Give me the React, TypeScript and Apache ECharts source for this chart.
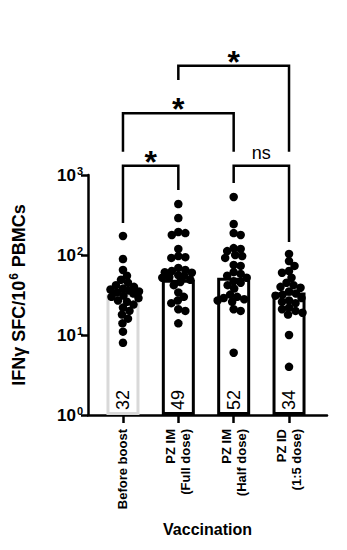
import React, { useEffect, useRef } from "react";
import * as echarts from "echarts";

const categories = ["Before boost", "PZ IM\n(Full dose)", "PZ IM\n(Half dose)", "PZ ID\n(1:5 dose)"];
const barValues = [32, 49, 52, 34];
const countLabels = ["32", "49", "52", "34"];

const beforeBoost = [173, 89, 65, 55, 49, 45, 42, 40, 38, 37, 36, 35, 34, 33, 31, 30, 29, 27, 26, 24, 22, 20, 18, 16, 14, 11, 8];
const pzImFull = [434, 290, 194, 188, 178, 119, 97, 94, 92, 69, 65, 63, 61, 60, 56, 55, 53, 52, 49, 46, 42, 34, 30, 27, 25, 21, 20, 14];
const pzImHalf = [531, 244, 188, 178, 122, 119, 112, 100, 97, 92, 75, 73, 61, 58, 55, 52, 47, 45, 42, 38, 32, 30, 29, 28, 27, 26, 21, 20, 6];
const pzId = [103, 84, 73, 63, 60, 52, 45, 42, 40, 39, 35, 33, 32, 31, 29, 27, 26, 25, 22, 21, 20, 19, 18, 10, 4];
const groups = [beforeBoost, pzImFull, pzImHalf, pzId];

const yTicks = [1, 10, 100, 1000];

const brackets = [
  { from: 0, to: 1, level: 1307, leftEnd: 251, rightEnd: 649, label: "*" },
  { from: 0, to: 2, level: 5905, leftEnd: 1955, rightEnd: 1955, label: "*" },
  { from: 1, to: 3, level: 23240, leftEnd: 15400, rightEnd: 1955, label: "*" },
  { from: 2, to: 3, level: 1307, leftEnd: 794, rightEnd: 145, label: "ns" },
];

const PX_PER_DECADE = 80;
const PX_PER_CATEGORY = 55.35;

function swarm(values: number[], group: number): number[][] {
  const sorted = [...values].sort((a, b) => b - a);
  const placed: { x: number; y: number }[] = [];
  const D = 7.0;
  const out: number[][] = [];
  for (const v of sorted) {
    const y = -PX_PER_DECADE * Math.log10(v);
    let best = 0;
    let bestScore = -1;
    for (let k = 0; k <= 80; k++) {
      const off = (k % 2 === 1 ? 1 : -1) * Math.ceil(k / 2) * 0.5;
      if (Math.abs(off) > 16) break;
      let minD = Infinity;
      for (const p of placed) {
        const d = Math.hypot(p.x - off, p.y - y);
        if (d < minD) minD = d;
      }
      if (minD >= D) {
        best = off;
        bestScore = Infinity;
        break;
      }
      if (minD > bestScore) {
        bestScore = minD;
        best = off;
      }
    }
    placed.push({ x: best, y });
    out.push([group + best / PX_PER_CATEGORY, v]);
  }
  return out;
}

const FONT = "'Liberation Sans', Arial, Helvetica, sans-serif";

export default function App() {
  const ref = useRef<HTMLDivElement>(null);
  useEffect(() => {
    if (!ref.current) return;
    const chart = echarts.init(ref.current, undefined, { renderer: "svg" });
    const gridTop = 175;
    const gridH = 240;
    const points: number[][] = [];
    groups.forEach((g, i) => swarm(g, i).forEach((p) => points.push(p)));

    const option: any = {
      animation: false,
      backgroundColor: "#ffffff",
      textStyle: { fontFamily: FONT },
      grid: [
        { left: 86, top: gridTop, width: 241, height: gridH },
        { left: 95.3, top: gridTop, width: 221.4, height: gridH },
      ],
      xAxis: [
        {
          type: "value",
          gridIndex: 0,
          min: 0,
          max: 1,
          axisLine: { show: true, onZero: false, lineStyle: { color: "#000", width: 2.5 } },
          axisTick: { show: false },
          axisLabel: { show: false },
          splitLine: { show: false },
          name: "Vaccination",
          nameLocation: "middle",
          nameGap: 106,
          nameTextStyle: { fontFamily: FONT, fontWeight: "bold", fontSize: 16, color: "#000" },
        },
        {
          type: "category",
          gridIndex: 1,
          data: categories,
          axisLine: { show: false },
          axisTick: { show: true, alignWithLabel: true, length: 8, lineStyle: { color: "#000", width: 2.5 } },
          axisLabel: {
            interval: 0,
            rotate: 90,
            margin: 14,
            fontFamily: FONT,
            fontWeight: "bold",
            fontSize: 13,
            lineHeight: 15,
            color: "#000",
          },
          splitLine: { show: false },
        },
        {
          type: "value",
          gridIndex: 1,
          min: -0.5,
          max: 3.5,
          show: false,
        },
      ],
      yAxis: [
        {
          type: "log",
          gridIndex: 0,
          min: 1,
          max: 1000,
          logBase: 10,
          axisLine: { show: true, onZero: false, lineStyle: { color: "#000", width: 2.5 } },
          axisTick: { show: true, length: 7, lineStyle: { color: "#000", width: 2.5 } },
          minorTick: { show: false },
          splitLine: { show: false },
          axisLabel: {
            margin: 5,
            formatter: (v: number) => {
              const e = yTicks.indexOf(Math.round(v));
              return `{b|10}{s|${e}}`;
            },
            rich: {
              b: { fontFamily: FONT, fontWeight: "bold", fontSize: 17, color: "#000", lineHeight: 20 },
              s: { fontFamily: FONT, fontWeight: "bold", fontSize: 11, color: "#000", verticalAlign: "top", padding: [0, 0, 6, 1] },
            },
          },
          name: "{b|IFNγ SFC/10}{s|6}{b| PBMCs}",
          nameLocation: "middle",
          nameRotate: 90,
          nameGap: 58,
          nameTextStyle: {
            rich: {
              b: { fontFamily: FONT, fontWeight: "bold", fontSize: 18, color: "#000", lineHeight: 22 },
              s: { fontFamily: FONT, fontWeight: "bold", fontSize: 12, color: "#000", verticalAlign: "top", padding: [0, 1, 6, 1] },
            },
          },
        },
        {
          type: "log",
          gridIndex: 1,
          min: 1,
          max: 1000,
          logBase: 10,
          show: false,
        },
      ],
      series: [
        {
          type: "bar",
          xAxisIndex: 1,
          yAxisIndex: 1,
          barWidth: 33,
          data: barValues.map((v, i) => ({
            value: v,
            itemStyle: {
              color: "#ffffff",
              borderColor: i === 0 ? "#d9d9d9" : "#000000",
              borderWidth: 3,
            },
          })),
          label: {
            show: true,
            position: "insideBottom",
            rotate: 90,
            align: "left",
            verticalAlign: "middle",
            distance: 5,
            fontFamily: FONT,
            fontSize: 18,
            color: "#000",
            formatter: (p: any) => countLabels[p.dataIndex],
          },
          z: 2,
        },
        {
          type: "scatter",
          xAxisIndex: 2,
          yAxisIndex: 1,
          symbol: "circle",
          symbolSize: 8.5,
          itemStyle: { color: "#000", opacity: 1 },
          data: points,
          z: 3,
        },
        {
          type: "custom",
          xAxisIndex: 2,
          yAxisIndex: 1,
          data: brackets.map((b) => [b.from, b.to, b.level, b.leftEnd, b.rightEnd]),
          encode: { x: [0, 1], y: [2, 3, 4] },
          renderItem: (params: any, api: any) => {
            const b = brackets[params.dataIndex];
            const pL = api.coord([api.value(0), api.value(2)]);
            const pR = api.coord([api.value(1), api.value(2)]);
            const lEnd = api.coord([api.value(0), api.value(3)]);
            const rEnd = api.coord([api.value(1), api.value(4)]);
            const isStar = b.label === "*";
            return {
              type: "group",
              children: [
                {
                  type: "polyline",
                  shape: { points: [[pL[0], lEnd[1]], [pL[0], pL[1]], [pR[0], pR[1]], [pR[0], rEnd[1]]] },
                  style: { stroke: "#000", lineWidth: 2.5, fill: "none" },
                },
                {
                  type: "text",
                  x: (pL[0] + pR[0]) / 2,
                  y: pL[1] - 4,
                  style: {
                    text: b.label,
                    fontFamily: FONT,
                    fontWeight: isStar ? "bold" : "normal",
                    fontSize: isStar ? 32 : 18,
                    fill: "#000",
                    align: "center",
                    verticalAlign: isStar ? "middle" : "bottom",
                  },
                },
              ],
            };
          },
          z: 4,
        },
      ],
    };
    chart.setOption(option);
    return () => chart.dispose();
  }, []);
  return <div ref={ref} style={{ width: 347, height: 550, margin: -8 }} />;
}
